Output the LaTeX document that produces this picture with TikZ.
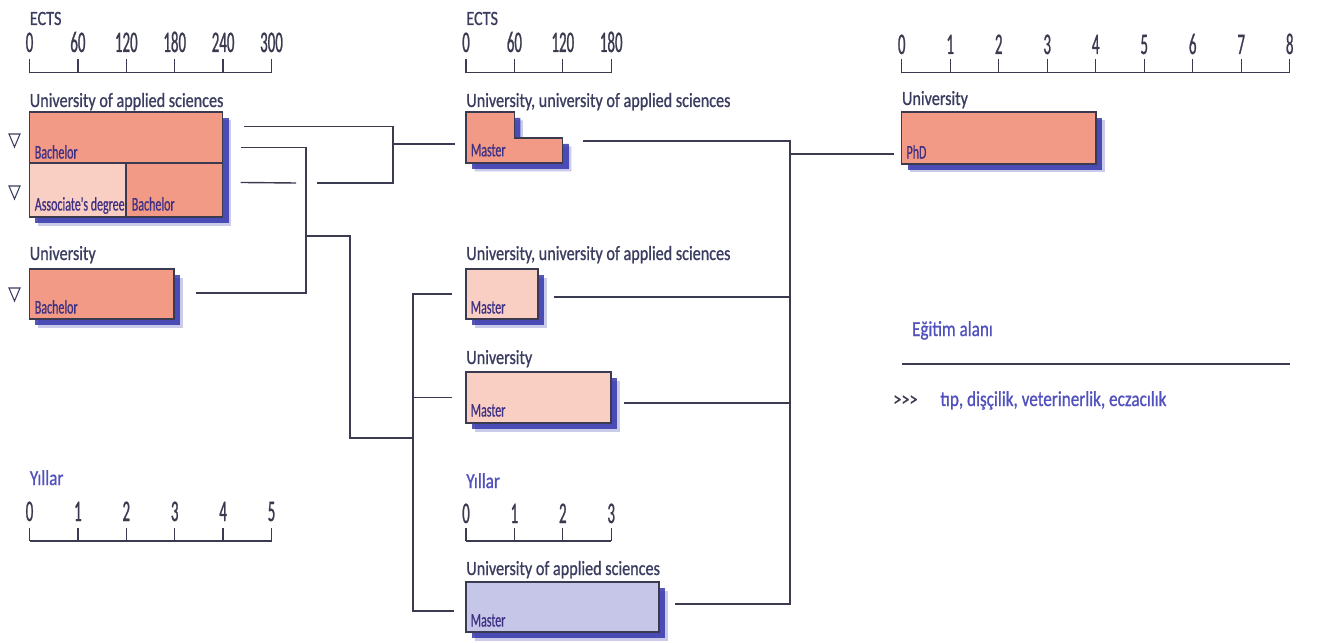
\documentclass[tikz,border=0pt]{standalone}
\usepackage{fontspec}
\setmainfont{Carlito}
\newfontfamily\labelfont{Carlito}[FakeStretch=0.8,FakeBold=0.8]
\newfontfamily\numfont{Carlito}[FakeStretch=0.5,FakeBold=0.8]
\newfontfamily\boxfont{Carlito}[FakeStretch=0.62,FakeBold=0.6]
\usetikzlibrary{calc,fit,shadows}
\definecolor{Salmon}{RGB}{242,154,134}
\definecolor{Blush}{RGB}{250,207,195}
\definecolor{Lavender}{RGB}{198,198,233}
\definecolor{Ink}{RGB}{58,58,80}
\definecolor{Slate}{RGB}{58,60,96}
\definecolor{BoxInk}{RGB}{62,48,130}
\definecolor{Violet}{RGB}{80,80,190}
\definecolor{Shade}{RGB}{44,44,168}

\tikzset{
  grp/.style={font=\labelfont\fontsize{11.5}{12}\selectfont,text=Slate,anchor=base west,inner sep=0pt},
  unit/.style={grp,text=Violet,font=\labelfont\fontsize{12.2}{13}\selectfont},
  num/.style={font=\numfont\fontsize{17}{17}\selectfont,text=Ink,anchor=base,inner sep=0pt},
  inbox/.style={font=\boxfont\fontsize{11}{11}\selectfont,text=BoxInk,anchor=base west,inner sep=0pt},
  shade drop/.style={
    drop shadow={shadow xshift=0.17cm,shadow yshift=-0.17cm,fill=Shade,opacity=0.25},
    drop shadow={shadow xshift=0.12cm,shadow yshift=-0.12cm,fill=Shade,opacity=0.8}},
  prog/.style={draw=Ink,line width=0.6pt,fill=Salmon,inner sep=0pt,shade drop},
  link/.style={draw=Ink,line width=0.8pt},
  ruler/.style={draw=Ink,line width=0.7pt},
  mark tri/.style={draw=Slate,line width=0.6pt},
}

\begin{document}
\begin{tikzpicture}[x=0.02cm,y=-0.02cm]
  \useasboundingbox[fill=white] (0,0) rectangle (1317,642);

  % scales
  \node[grp] (ectsA) at (29.5,25) {ECTS};
  \draw[ruler] (29.5,72.7) -- (271.5,72.7);
  \foreach \t [count=\i from 0] in {0,60,120,180,240,300} {
    \draw[ruler] ({29.5+48.4*\i},59) -- ({29.5+48.4*\i},72.7);
    \node[num] at ({29.5+48.4*\i},52) {\t};
  }
  \node[grp] (ectsB) at (466,25) {ECTS};
  \draw[ruler] (466,72.7) -- (611.2,72.7);
  \foreach \t [count=\i from 0] in {0,60,120,180} {
    \draw[ruler] ({466+48.4*\i},59) -- ({466+48.4*\i},72.7);
    \node[num] at ({466+48.4*\i},52) {\t};
  }
  \draw[ruler] (901.7,72.7) -- (1290,72.7);
  \foreach \t in {0,...,8} {
    \draw[ruler] ({901.7+48.5*\t},59) -- ({901.7+48.5*\t},72.7);
    \node[num] at ({901.7+48.5*\t},54) {\t};
  }
  \node[unit] (yrA) at (29.5,485) {Yıllar};
  \draw[ruler] (29.5,541) -- (271.5,541);
  \foreach \t in {0,...,5} {
    \draw[ruler] ({29.5+48.4*\t},528) -- ({29.5+48.4*\t},541);
    \node[num] at ({29.5+48.4*\t},521) {\t};
  }
  \node[unit] (yrB) at (466,488) {Yıllar};
  \draw[ruler] (466,541) -- (611.2,541);
  \foreach \t in {0,...,3} {
    \draw[ruler] ({466+48.4*\t},528) -- ({466+48.4*\t},541);
    \node[num] at ({466+48.4*\t},523) {\t};
  }

  % bachelor level
  \node[grp] (uasLbl) at (29.5,107) {University of applied sciences};
  \node[prog,fit={(29.5,112) (222.7,163)}] (uasBa) {};
  \node[inbox] at ($(uasBa.south west)+(5.5,-5)$) {Bachelor};
  \node[prog,fill=Blush,fit={(29.5,163) (126,217)}] (assoc) {};
  \node[prog,fit={(126,163) (222.7,217)}] (uasBa2) {};
  \node[inbox] at ($(assoc.south west)+(5.5,-7)$) {Associate's degree};
  \node[inbox] at ($(uasBa2.south west)+(6,-7)$) {Bachelor};
  \node[grp] (uniLbl) at (29.5,260) {University};
  \node[prog,fit={(29.5,269) (174,319)}] (uniBa) {};
  \node[inbox] at ($(uniBa.south west)+(5.5,-6)$) {Bachelor};
  \foreach \y in {134,186,288}
    \draw[mark tri] (9,\y) -- (20,\y) -- (14.5,\y+13) -- cycle;

  % master level
  \node[grp] (m1Lbl) at (466,107) {University, university of applied sciences};
  \filldraw[fill=Salmon,draw=Ink,line width=0.6pt,shade drop]
    (466,112) -- (514.4,112) -- (514.4,138) -- (562.8,138)
    -- (562.8,163) -- (466,163) -- cycle;
  \node[inner sep=0pt,fit={(466,112) (562.8,163)}] (mast1) {};
  \node[inbox] at ($(mast1.south west)+(5,-7)$) {Master};
  \node[grp] (m2Lbl) at (466,260) {University, university of applied sciences};
  \node[prog,fill=Blush,fit={(466,269) (538,319)}] (mast2) {};
  \node[inbox] at ($(mast2.south west)+(5,-6)$) {Master};
  \node[grp] (m3Lbl) at (466,364) {University};
  \node[prog,fill=Blush,fit={(466,372) (611,423)}] (mast3) {};
  \node[inbox] at ($(mast3.south west)+(5,-7)$) {Master};
  \node[grp] (m4Lbl) at (466,575) {University of applied sciences};
  \node[prog,fill=Lavender,fit={(466,582) (659,632)}] (mast4) {};
  \node[inbox] at ($(mast4.south west)+(5,-6)$) {Master};

  % doctorate
  \node[grp] (phdLbl) at (901.7,105) {University};
  \node[prog,fit={(901.7,112) (1096,164)}] (phd) {};
  \node[inbox] at ($(phd.south west)+(5,-6)$) {PhD};

  % legend
  \node[unit] (field) at (911.7,336) {Eğitim alanı};
  \coordinate (ruleL) at (901.7,364);
  \coordinate (ruleR) at (1290,364);
  \draw[link] (ruleL) -- (ruleR);
  \node[grp,text=Ink] (chev) at (893,406) {>>>};
  \node[unit] (fields) at (940,406) {tıp, dişçilik, veterinerlik, eczacılık};

  % junctions
  \coordinate (jTop) at (393,144);
  \coordinate (jTopEnd) at (393,183);
  \coordinate (busL) at (306,293);
  \coordinate (jMid) at (306,236);
  \coordinate (jDown) at (350,438);
  \coordinate (busM) at (413,611);
  \coordinate (busR) at (790,604);
  \coordinate (jPhd) at (790,154);
  \coordinate (gapL) at (296,183);
  \coordinate (gapR) at (317,183);
  \coordinate (outM2) at ($(mast2.east)+(15,3)$);
  \coordinate (outM3) at ($(mast3.east)+(12,5.5)$);

  % connectors
  \draw[link] ($(uasBa.north east)+(20.3,15)$) -| (jTopEnd) -- (gapR);
  \draw[link] ($(uasBa2.north east)+(17.3,20)$) -- (gapL);
  \draw[link] (jTop) -- ($(mast1.west)+(-11,6.5)$);
  \draw[link] ($(uasBa.south east)+(17.3,-16)$) -| (busL) -- ($(uniBa.east)+(21,-1)$);
  \draw[link] ($(uasBa2.south east)+(17.3,-15)$) -- ($(uasBa2.south east)+(17.3,-15)$ -| busL);
  \draw[link] (jMid) -| (jDown) -- (jDown -| busM);
  \draw[link] ($(mast2.west)+(-13,0)$) -| (busM) -- ($(mast4.west)+(-11,4)$);
  \draw[link] ($(mast3.west)+(-13,0)$) -- (mast3.west -| busM);
  \draw[link] ($(mast1.east)+(20,3.5)$) -| (busR) -- ($(mast4.east)+(15,-3)$);
  \draw[link] (outM2) -- (outM2 -| busR);
  \draw[link] (outM3) -- (outM3 -| busR);
  \draw[link] (jPhd) -- ($(phd.west)+(-7,16)$);
\end{tikzpicture}
\end{document}
